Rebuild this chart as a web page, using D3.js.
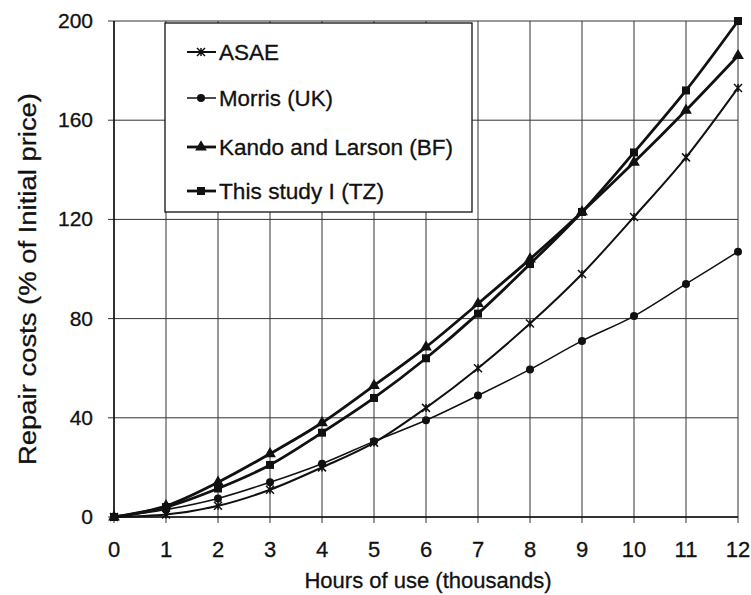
<!DOCTYPE html>
<html>
<head>
<meta charset="utf-8">
<script src="https://cdn.jsdelivr.net/npm/d3@7"></script>
<style>
body{margin:0;background:#fff;}
svg text{font-family:"Liberation Sans",Arial,sans-serif;fill:#111;stroke:#111;stroke-width:0.3px;}
</style>
</head>
<body>
<svg id="chart" width="751" height="595"></svg>
<script>
const hours = [0,1,2,3,4,5,6,7,8,9,10,11,12];
const yTicks = [0,40,80,120,160,200];
const asae = [0,1,4.5,11,20,30,44,60,78,98,121,145,173];
const morris = [0,3,7.5,14,21.5,30.5,39,49,59.5,71,81,94,107];
const kando = [0,4.5,14,25.5,38,53,68.5,86,104,123,143,164,186];
const study = [0,4,11.5,21,34,48,64,82,102,123,147,172,200];
const seriesNames = ['ASAE','Morris (UK)','Kando and Larson (BF)','This study I (TZ)'];

const svg = d3.select('#chart');
const x = d3.scaleLinear().domain([0,12]).range([114,738]);
const y = d3.scaleLinear().domain([0,200]).range([517,21]);

const series = [
  {name:seriesNames[0], values:asae, marker:'x', width:2},
  {name:seriesNames[1], values:morris, marker:'circle', width:1.5},
  {name:seriesNames[2], values:kando, marker:'triangle', width:2.8},
  {name:seriesNames[3], values:study, marker:'square', width:2.8}
];

// grid
const grid = svg.append('g').attr('stroke','#333').attr('stroke-width',1);
grid.selectAll('line.v').data(hours).enter().append('line')
  .attr('x1',d=>x(d)).attr('x2',d=>x(d))
  .attr('y1',y(200)).attr('y2',y(0)+6);
grid.selectAll('line.h').data(yTicks).enter().append('line')
  .attr('x1',x(0)-6).attr('x2',x(12))
  .attr('y1',d=>y(d)).attr('y2',d=>y(d));
svg.append('line').attr('x1',x(0)).attr('x2',x(0)).attr('y1',y(200)).attr('y2',y(0))
  .attr('stroke','#111').attr('stroke-width',1.5);
svg.append('line').attr('x1',x(0)).attr('x2',x(12)).attr('y1',y(0)).attr('y2',y(0))
  .attr('stroke','#111').attr('stroke-width',1.5);

// tick labels
svg.selectAll('text.yt').data(yTicks).enter().append('text')
  .attr('x',x(0)-21).attr('y',d=>y(d)+7)
  .attr('text-anchor','end').style('font-size','21px').text(d=>d);
svg.selectAll('text.xt').data(hours).enter().append('text')
  .attr('x',d=>x(d)).attr('y',557)
  .attr('text-anchor','middle').style('font-size','22px').text(d=>d);

svg.append('text').attr('x',428).attr('y',588).attr('text-anchor','middle')
  .style('font-size','22px').text('Hours of use (thousands)');
svg.append('text').attr('transform','translate(36,279) rotate(-90)')
  .attr('text-anchor','middle').style('font-size','23px')
  .attr('textLength',372).attr('lengthAdjust','spacingAndGlyphs')
  .text('Repair costs (% of Initial price)');

function drawMarker(g, type, cx, cy){
  if(type==='x'){
    const s=4;
    g.append('path').attr('d',`M${cx-s},${cy-s}L${cx+s},${cy+s}M${cx-s},${cy+s}L${cx+s},${cy-s}M${cx},${cy-s}L${cx},${cy+s}`)
      .attr('stroke','#111').attr('stroke-width',1.5).attr('fill','none');
  }else if(type==='circle'){
    g.append('circle').attr('cx',cx).attr('cy',cy).attr('r',4).attr('fill','#111');
  }else if(type==='triangle'){
    g.append('path').attr('d',d3.symbol(d3.symbolTriangle,60)()).attr('transform',`translate(${cx},${cy})`).attr('fill','#111');
  }else{
    g.append('rect').attr('x',cx-4).attr('y',cy-4).attr('width',8).attr('height',8).attr('fill','#111');
  }
}

const line = d3.line().x((d,i)=>x(hours[i])).y(d=>y(d)).curve(d3.curveMonotoneX);
const plot = svg.append('g');
series.forEach(s=>{
  plot.append('path').attr('d',line(s.values)).attr('fill','none')
    .attr('stroke','#111').attr('stroke-width',s.width);
  const mg = plot.append('g');
  s.values.forEach((v,i)=>drawMarker(mg,s.marker,x(hours[i]),y(v)));
});

// legend
const lg = svg.append('g');
lg.append('rect').attr('x',165).attr('y',23).attr('width',307).attr('height',189)
  .attr('fill','#fff').attr('stroke','#111').attr('stroke-width',1.3);
const legendY = [52,98,147,191];
series.forEach((s,i)=>{
  const cy = legendY[i];
  lg.append('line').attr('x1',187).attr('x2',216).attr('y1',cy).attr('y2',cy)
    .attr('stroke','#111').attr('stroke-width',s.width);
  drawMarker(lg,s.marker,201,cy);
  lg.append('text').attr('x',219).attr('y',cy+8).style('font-size','22px')
    .attr('textLength',[60,114,234,165][i]).attr('lengthAdjust','spacingAndGlyphs')
    .text(s.name);
});
</script>
</body>
</html>
